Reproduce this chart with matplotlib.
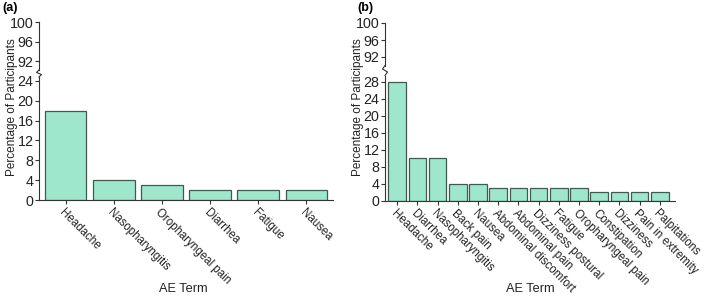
import matplotlib
matplotlib.use("Agg")
import matplotlib.pyplot as plt
from matplotlib.lines import Line2D

plt.rcParams['font.family'] = ['Liberation Sans', 'DejaVu Sans']

terms_a = ["Headache", "Nasopharyngitis", "Oropharyngeal pain", "Diarrhea", "Fatigue", "Nausea"]
values_a = [18, 4, 3, 2, 2, 2]

terms_b = ["Headache", "Diarrhea", "Nasopharyngitis", "Back pain", "Nausea",
           "Abdominal discomfort", "Abdominal pain", "Dizziness postural", "Fatigue",
           "Oropharyngeal pain", "Constipation", "Dizziness", "Pain in extremity", "Palpitations"]
values_b = [28, 10, 10, 4, 4, 3, 3, 3, 3, 3, 2, 2, 2, 2]

upper_ticks = [92, 96, 100]
lower_ticks_a = [0, 4, 8, 12, 16, 20, 24]
lower_ticks_b = [0, 4, 8, 12, 16, 20, 24, 28]

FILL = "#9ee6cc"
EDGE = "#3f5a50"
SPINE = "#333333"
YT_FS = 10.3
XT_FS = 8.3
LAB_FS = 8.5

W, H = 709, 298
fig = plt.figure(figsize=(W / 100, H / 100), dpi=100)


def px(x0, y_top, x1, y_bot):
    return [x0 / W, 1 - y_bot / H, (x1 - x0) / W, (y_bot - y_top) / H]


def panel(terms, values, xl, xr, top_rng, bot_rng, top_ylim, bot_ylim, lower_ticks, xlim,
          label, label_x, xlabel_x, ylabel_y):
    ax_t = fig.add_axes(px(xl, top_rng[0], xr, top_rng[1]))
    ax_b = fig.add_axes(px(xl, bot_rng[0], xr, bot_rng[1]))
    x = list(range(len(terms)))
    for ax in (ax_t, ax_b):
        ax.bar(x, values, width=0.87, color=FILL, edgecolor=EDGE, linewidth=0.9, zorder=2)
        ax.set_xlim(*xlim)
        ax.spines['top'].set_visible(False)
        ax.spines['right'].set_visible(False)
        for s in ('left', 'bottom'):
            ax.spines[s].set_color(SPINE)
            ax.spines[s].set_linewidth(0.8)
        ax.tick_params(axis='y', labelsize=YT_FS, length=3, width=0.8, color=SPINE, pad=1,
                       labelcolor='#222222')
        ax.tick_params(axis='x', labelsize=XT_FS, length=3, width=0.8, color=SPINE, pad=2,
                       labelcolor='#222222')
    ax_t.set_ylim(*top_ylim)
    ax_t.set_yticks(upper_ticks)
    ax_t.spines['bottom'].set_visible(False)
    ax_t.set_xticks([])
    ax_b.set_ylim(*bot_ylim)
    ax_b.set_yticks(lower_ticks)
    ax_b.set_xticks(x)
    ax_b.set_xticklabels(terms, rotation=-45, ha='left', va='top', rotation_mode='anchor')
    fig.text(xlabel_x / W, 1 - 289 / H, "AE Term", ha='center', va='center',
             fontsize=9.2, color='#222222')
    fig.text((xl - 27) / W, 1 - ylabel_y / H, "Percentage of Participants", rotation=90,
             ha='center', va='center', fontsize=LAB_FS, color='#222222')
    # break marker
    xs = xl / W
    d = 2.5 / W
    y0 = 1 - top_rng[1] / H
    y1 = 1 - bot_rng[0] / H
    ym1 = y0 - (y0 - y1) * 0.35
    ym2 = y0 - (y0 - y1) * 0.65
    fig.add_artist(Line2D([xs, xs - d, xs + d, xs],
                          [y0, ym1, ym2, y1], color=SPINE, lw=0.8,
                          transform=fig.transFigure))
    fig.text(label_x / W, 1 - 8 / H, label, fontweight='bold', fontsize=9,
             ha='left', va='center')
    return ax_t, ax_b


panel(terms_a, values_a, 39, 333, (22, 70), (77, 200), (90.2, 100), (0, 24.8),
      lower_ticks_a, (-0.55, 5.55), "(a)", 2, 183, 107)
panel(terms_b, values_b, 385, 675, (23, 65.5), (75.5, 201), (90, 100), (0, 29.5),
      lower_ticks_b, (-0.6, 13.75), "(b)", 357, 530, 107)

fig.savefig("out.png", dpi=100)
